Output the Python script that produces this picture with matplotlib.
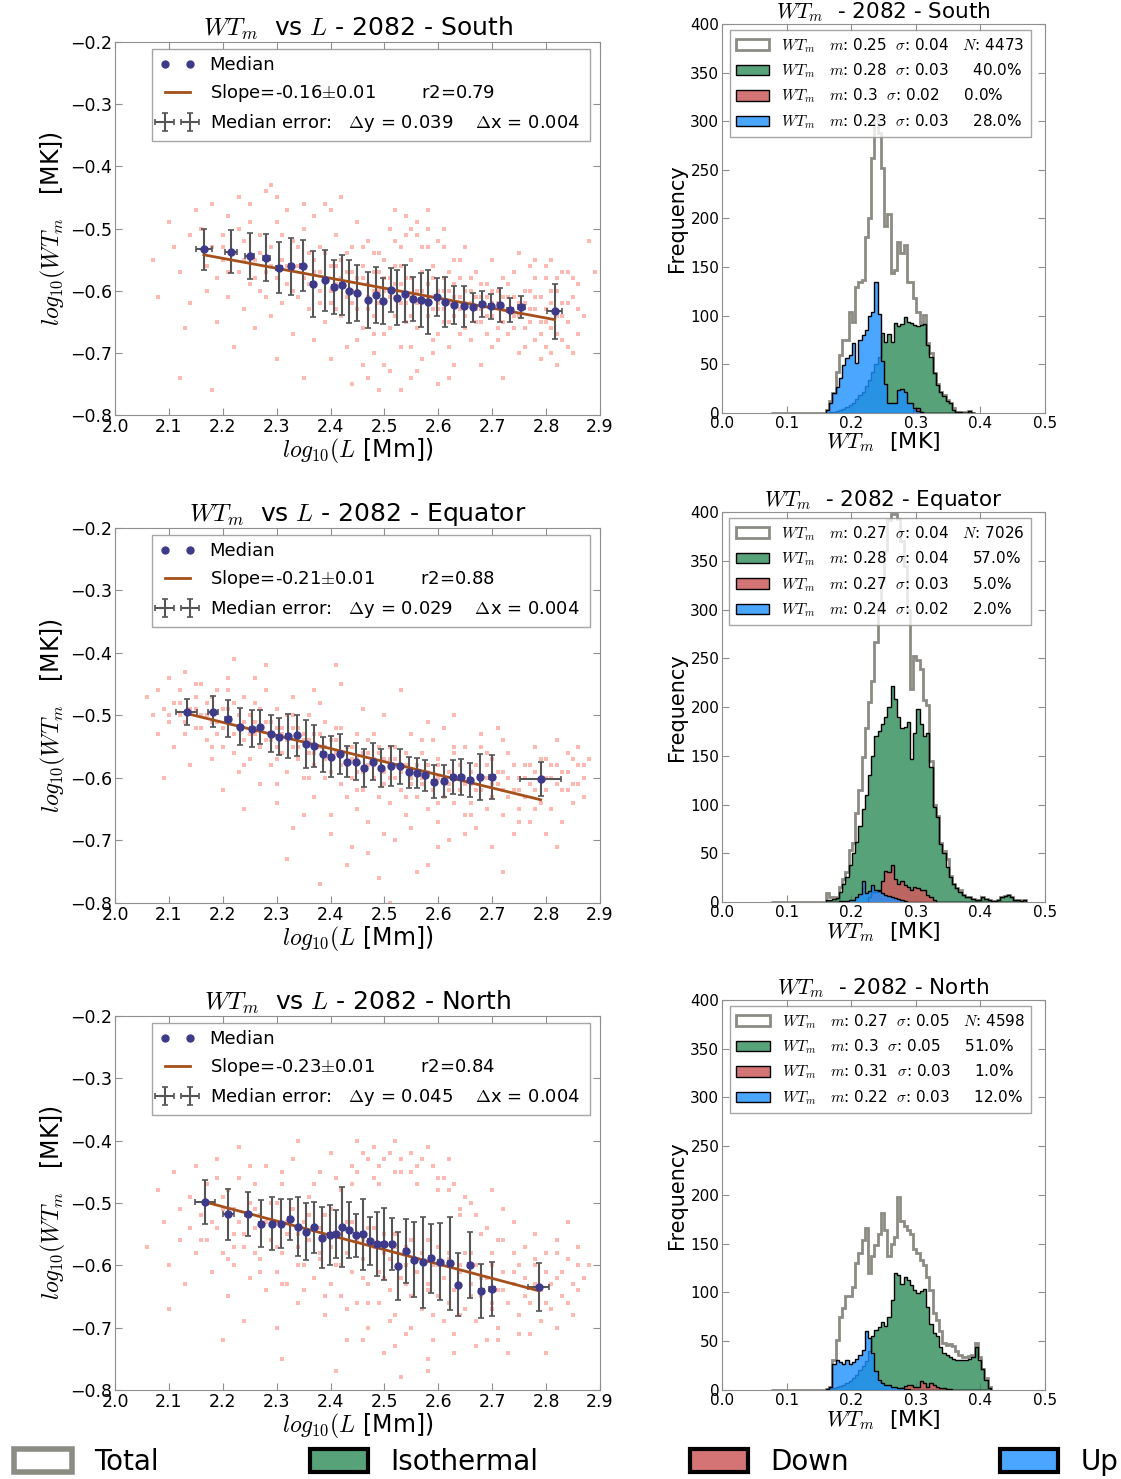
import numpy as np
import matplotlib
matplotlib.use('Agg')
import matplotlib.pyplot as plt
from matplotlib.patches import Patch
from matplotlib.colors import to_rgba

plt.rcParams['font.family'] = ['DejaVu Sans']
plt.rcParams['mathtext.fontset'] = 'cm'
plt.rcParams['xtick.direction'] = 'in'
plt.rcParams['ytick.direction'] = 'in'
plt.rcParams['xtick.top'] = True
plt.rcParams['ytick.right'] = True

regions = ['South', 'Equator', 'North']

# ---- medianas (log10 L, log10 WT_m) y errores
south_med_x = [2.165, 2.215, 2.250, 2.281, 2.304, 2.326, 2.348, 2.368, 2.390, 2.406, 2.421,
               2.435, 2.450, 2.470, 2.485, 2.497, 2.513, 2.524, 2.538, 2.553, 2.567, 2.580,
               2.597, 2.612, 2.630, 2.647, 2.664, 2.681, 2.698, 2.715, 2.733, 2.754, 2.816]
south_med_y = [-0.533, -0.537, -0.544, -0.547, -0.563, -0.561, -0.560, -0.589, -0.583, -0.594,
               -0.591, -0.601, -0.603, -0.615, -0.607, -0.616, -0.599, -0.611, -0.605, -0.613,
               -0.615, -0.618, -0.610, -0.618, -0.623, -0.625, -0.627, -0.622, -0.625, -0.623,
               -0.631, -0.626, -0.633]
south_yerr = [0.033, 0.034, 0.037, 0.038, 0.041, 0.046, 0.041, 0.053, 0.049, 0.044, 0.048,
              0.051, 0.045, 0.045, 0.045, 0.037, 0.036, 0.044, 0.046, 0.035, 0.044, 0.052,
              0.031, 0.040, 0.031, 0.033, 0.023, 0.021, 0.020, 0.028, 0.020, 0.018, 0.044]
south_xerr = [0.015, 0.011, 0.008, 0.006, 0.005, 0.004, 0.004, 0.004, 0.003, 0.003, 0.003,
              0.003, 0.003, 0.003, 0.003, 0.003, 0.003, 0.003, 0.003, 0.003, 0.003, 0.003,
              0.003, 0.003, 0.003, 0.003, 0.004, 0.004, 0.004, 0.004, 0.005, 0.007, 0.014]

equator_med_x = [2.133, 2.182, 2.210, 2.232, 2.254, 2.270, 2.289, 2.305, 2.321, 2.338, 2.354,
                 2.370, 2.386, 2.401, 2.417, 2.431, 2.448, 2.463, 2.478, 2.494, 2.512, 2.529,
                 2.545, 2.561, 2.576, 2.592, 2.610, 2.627, 2.642, 2.659, 2.678, 2.700, 2.790]
equator_med_y = [-0.494, -0.494, -0.505, -0.518, -0.521, -0.518, -0.529, -0.534, -0.533, -0.532,
                 -0.546, -0.549, -0.562, -0.566, -0.561, -0.574, -0.574, -0.584, -0.574, -0.584,
                 -0.581, -0.581, -0.591, -0.592, -0.596, -0.606, -0.605, -0.599, -0.598, -0.603,
                 -0.598, -0.599, -0.602]
equator_yerr = [0.021, 0.025, 0.029, 0.030, 0.029, 0.027, 0.030, 0.030, 0.035, 0.033, 0.038,
                0.033, 0.028, 0.033, 0.032, 0.025, 0.030, 0.030, 0.030, 0.030, 0.032, 0.028,
                0.025, 0.024, 0.025, 0.026, 0.025, 0.027, 0.029, 0.027, 0.037, 0.035, 0.027]
equator_xerr = [0.019, 0.010, 0.005, 0.004, 0.003, 0.003, 0.003, 0.003, 0.003, 0.003, 0.003,
                0.003, 0.003, 0.003, 0.003, 0.003, 0.003, 0.003, 0.003, 0.003, 0.003, 0.003,
                0.003, 0.003, 0.003, 0.003, 0.003, 0.003, 0.003, 0.004, 0.004, 0.006, 0.038]

north_med_x = [2.167, 2.210, 2.246, 2.271, 2.292, 2.308, 2.324, 2.340, 2.355, 2.370, 2.384,
               2.399, 2.410, 2.422, 2.435, 2.447, 2.460, 2.473, 2.487, 2.499, 2.514, 2.526,
               2.540, 2.555, 2.571, 2.586, 2.603, 2.621, 2.637, 2.659, 2.680, 2.700, 2.786]
north_med_y = [-0.498, -0.518, -0.518, -0.533, -0.533, -0.533, -0.526, -0.538, -0.546, -0.539,
               -0.556, -0.551, -0.550, -0.539, -0.543, -0.552, -0.550, -0.561, -0.566, -0.566,
               -0.566, -0.601, -0.577, -0.591, -0.595, -0.589, -0.594, -0.597, -0.631, -0.599,
               -0.641, -0.638, -0.635]
north_yerr = [0.035, 0.041, 0.035, 0.037, 0.043, 0.040, 0.033, 0.047, 0.046, 0.041, 0.049,
              0.048, 0.038, 0.064, 0.045, 0.035, 0.057, 0.038, 0.051, 0.058, 0.042, 0.055,
              0.051, 0.060, 0.073, 0.056, 0.062, 0.075, 0.050, 0.053, 0.043, 0.044, 0.038]
north_xerr = [0.018, 0.010, 0.004, 0.003, 0.003, 0.003, 0.003, 0.003, 0.003, 0.003, 0.003,
              0.003, 0.003, 0.003, 0.003, 0.003, 0.003, 0.003, 0.003, 0.003, 0.003, 0.003,
              0.003, 0.003, 0.003, 0.003, 0.003, 0.003, 0.003, 0.004, 0.004, 0.005, 0.019]

# ajuste lineal: y = icpt + slope * x
fit_slope = [-0.16, -0.21, -0.23]
fit_icpt = [-0.196, -0.049, 0.0]
fit_err = [0.01, 0.01, 0.01]
fit_r2 = [0.79, 0.88, 0.84]
med_dy = [0.039, 0.029, 0.045]
med_dx = [0.004, 0.004, 0.004]

# ---- nube de puntos (subconjunto)
south_cloud_x = [2.07, 2.08, 2.10, 2.11, 2.12, 2.13, 2.14, 2.14, 2.15, 2.12,
                 2.16, 2.17, 2.17, 2.18, 2.18, 2.19, 2.19, 2.20, 2.20, 2.21, 2.21, 2.22, 2.22, 2.23, 2.23, 2.24, 2.24, 2.25, 2.25, 2.18,
                 2.26, 2.26, 2.27, 2.27, 2.28, 2.28, 2.29, 2.29, 2.30, 2.30, 2.30, 2.31, 2.31, 2.32, 2.32, 2.33, 2.33, 2.34, 2.34, 2.35, 2.35, 2.35, 2.29,
                 2.36, 2.36, 2.37, 2.37, 2.37, 2.38, 2.38, 2.39, 2.39, 2.39, 2.40, 2.40, 2.40, 2.41, 2.41, 2.42, 2.42, 2.42, 2.43, 2.43, 2.43, 2.44, 2.44, 2.44, 2.45, 2.45, 2.45,
                 2.46, 2.46, 2.46, 2.47, 2.47, 2.47, 2.48, 2.48, 2.48, 2.49, 2.49, 2.49, 2.50, 2.50, 2.50, 2.51, 2.51, 2.51, 2.52, 2.52, 2.52, 2.53, 2.53, 2.53, 2.54, 2.54, 2.54, 2.55, 2.55, 2.55,
                 2.56, 2.56, 2.56, 2.57, 2.57, 2.57, 2.58, 2.58, 2.58, 2.59, 2.59, 2.59, 2.60, 2.60, 2.60, 2.61, 2.61, 2.61, 2.62, 2.62, 2.62, 2.63, 2.63, 2.63, 2.64, 2.64, 2.65, 2.65, 2.65,
                 2.66, 2.66, 2.67, 2.67, 2.68, 2.68, 2.68, 2.69, 2.69, 2.70, 2.70, 2.70, 2.71, 2.71, 2.72, 2.72, 2.72, 2.73, 2.73, 2.74, 2.74, 2.75, 2.75, 2.75,
                 2.76, 2.76, 2.77, 2.77, 2.78, 2.78, 2.78, 2.79, 2.79, 2.80, 2.80, 2.80, 2.81, 2.81, 2.81, 2.82, 2.82, 2.82, 2.83, 2.83, 2.84, 2.84, 2.85, 2.85, 2.86, 2.87, 2.88, 2.89, 2.86,
                 2.20, 2.21, 2.23, 2.24, 2.26, 2.27, 2.28, 2.29, 2.31, 2.32, 2.33, 2.34, 2.36, 2.37, 2.38, 2.38, 2.39, 2.40, 2.41, 2.41,
                 2.42, 2.43, 2.44, 2.44, 2.45, 2.46, 2.46, 2.47, 2.48, 2.48, 2.49, 2.49, 2.50, 2.50, 2.51, 2.51, 2.52, 2.52, 2.53, 2.53,
                 2.54, 2.54, 2.55, 2.55, 2.56, 2.56, 2.57, 2.57, 2.58, 2.58, 2.59, 2.59, 2.60, 2.60, 2.61, 2.61, 2.62, 2.62, 2.63, 2.63,
                 2.64, 2.64, 2.65, 2.65, 2.66, 2.66, 2.67, 2.67, 2.68, 2.68, 2.69, 2.69, 2.70, 2.70, 2.71, 2.71, 2.72, 2.72, 2.73, 2.73,
                 2.74, 2.74, 2.75, 2.76, 2.76, 2.77, 2.77, 2.78, 2.78, 2.79, 2.79, 2.80, 2.80, 2.81, 2.81, 2.82, 2.82, 2.83, 2.83, 2.84,
                 2.84, 2.85, 2.86, 2.47, 2.50, 2.53, 2.56, 2.59, 2.62, 2.45, 2.48, 2.55, 2.60, 2.52, 2.55, 2.58, 2.61, 2.64, 2.40, 2.35,
                 2.30, 2.25]
south_cloud_y = [-0.55, -0.61, -0.49, -0.53, -0.57, -0.66, -0.51, -0.62, -0.47, -0.74,
                 -0.50, -0.56, -0.60, -0.46, -0.53, -0.65, -0.58, -0.51, -0.55, -0.48, -0.61, -0.54, -0.69, -0.45, -0.57, -0.52, -0.63, -0.49, -0.59, -0.76,
                 -0.55, -0.66, -0.51, -0.60, -0.44, -0.57, -0.53, -0.64, -0.49, -0.58, -0.71, -0.55, -0.62, -0.47, -0.59, -0.52, -0.67, -0.56, -0.61, -0.50, -0.58, -0.74, -0.43,
                 -0.54, -0.63, -0.57, -0.68, -0.48, -0.60, -0.53, -0.65, -0.58, -0.46, -0.56, -0.62, -0.71, -0.51, -0.59, -0.64, -0.55, -0.45, -0.61, -0.57, -0.69, -0.53, -0.60, -0.75, -0.58, -0.63, -0.49,
                 -0.56, -0.66, -0.72, -0.52, -0.61, -0.59, -0.64, -0.57, -0.70, -0.60, -0.54, -0.76, -0.62, -0.58, -0.67, -0.50, -0.61, -0.73, -0.56, -0.64, -0.59, -0.53, -0.62, -0.69, -0.58, -0.65, -0.48, -0.61, -0.55, -0.74,
                 -0.60, -0.66, -0.51, -0.62, -0.57, -0.71, -0.59, -0.64, -0.53, -0.61, -0.68, -0.56, -0.63, -0.60, -0.75, -0.58, -0.65, -0.50, -0.62, -0.69, -0.60, -0.55, -0.64, -0.72, -0.61, -0.58, -0.66, -0.62, -0.53,
                 -0.60, -0.68, -0.63, -0.57, -0.65, -0.61, -0.72, -0.59, -0.64, -0.62, -0.55, -0.69, -0.66, -0.60, -0.63, -0.58, -0.74, -0.61, -0.67, -0.64, -0.57, -0.62, -0.70, -0.54,
                 -0.60, -0.66, -0.63, -0.56, -0.68, -0.61, -0.55, -0.65, -0.71, -0.58, -0.63, -0.69, -0.60, -0.66, -0.55, -0.72, -0.64, -0.58, -0.62, -0.68, -0.57, -0.65, -0.61, -0.70, -0.59, -0.64, -0.52, -0.57, -0.67,
                 -0.53, -0.57, -0.50, -0.55, -0.58, -0.54, -0.61, -0.56, -0.51, -0.56, -0.60, -0.53, -0.59, -0.55, -0.62, -0.57, -0.54, -0.60, -0.63, -0.56,
                 -0.58, -0.54, -0.62, -0.57, -0.60, -0.58, -0.53, -0.63, -0.60, -0.54, -0.62, -0.57, -0.60, -0.55, -0.58, -0.66, -0.61, -0.52, -0.59, -0.56,
                 -0.62, -0.51, -0.58, -0.64, -0.62, -0.49, -0.60, -0.53, -0.61, -0.50, -0.63, -0.58, -0.62, -0.52, -0.60, -0.63, -0.57, -0.65, -0.61, -0.59,
                 -0.63, -0.67, -0.60, -0.64, -0.62, -0.58, -0.65, -0.61, -0.63, -0.59, -0.61, -0.67, -0.64, -0.60, -0.62, -0.68, -0.65, -0.61, -0.63, -0.59,
                 -0.66, -0.61, -0.64, -0.62, -0.69, -0.65, -0.60, -0.63, -0.58, -0.61, -0.67, -0.65, -0.56, -0.62, -0.70, -0.60, -0.67, -0.64, -0.57, -0.62,
                 -0.69, -0.58, -0.63, -0.74, -0.72, -0.76, -0.73, -0.70, -0.74, -0.68, -0.67, -0.69, -0.67, -0.47, -0.50, -0.47, -0.53, -0.55, -0.47, -0.46,
                 -0.45, -0.46]

equator_cloud_x = [2.06, 2.07, 2.08, 2.08, 2.09, 2.10, 2.10, 2.11, 2.11, 2.12, 2.12, 2.13, 2.13, 2.14, 2.14, 2.15, 2.15, 2.09,
                   2.16, 2.16, 2.17, 2.17, 2.18, 2.18, 2.19, 2.19, 2.20, 2.20, 2.20, 2.21, 2.21, 2.22, 2.22, 2.23, 2.23, 2.24, 2.24, 2.25, 2.25, 2.22, 2.24,
                   2.26, 2.26, 2.27, 2.27, 2.28, 2.28, 2.29, 2.29, 2.30, 2.30, 2.30, 2.31, 2.31, 2.32, 2.32, 2.33, 2.33, 2.33, 2.34, 2.34, 2.35, 2.35, 2.28, 2.32,
                   2.36, 2.36, 2.37, 2.37, 2.37, 2.38, 2.38, 2.39, 2.39, 2.40, 2.40, 2.40, 2.41, 2.41, 2.42, 2.42, 2.42, 2.43, 2.43, 2.44, 2.44, 2.44, 2.45, 2.45, 2.38, 2.41,
                   2.46, 2.46, 2.47, 2.47, 2.47, 2.48, 2.48, 2.49, 2.49, 2.50, 2.50, 2.50, 2.51, 2.51, 2.52, 2.52, 2.52, 2.53, 2.53, 2.54, 2.54, 2.55, 2.55, 2.49, 2.53, 2.51,
                   2.56, 2.56, 2.57, 2.57, 2.58, 2.58, 2.59, 2.59, 2.60, 2.60, 2.60, 2.61, 2.61, 2.62, 2.62, 2.62, 2.63, 2.63, 2.64, 2.64, 2.65, 2.65, 2.58, 2.63,
                   2.66, 2.66, 2.67, 2.67, 2.68, 2.68, 2.69, 2.69, 2.70, 2.70, 2.70, 2.71, 2.71, 2.72, 2.72, 2.73, 2.73, 2.74, 2.74, 2.75, 2.75, 2.72,
                   2.76, 2.76, 2.77, 2.77, 2.78, 2.78, 2.79, 2.79, 2.80, 2.80, 2.80, 2.81, 2.81, 2.82, 2.82, 2.83, 2.83, 2.84, 2.84, 2.85, 2.85, 2.86, 2.86, 2.87, 2.87, 2.88, 2.82,
                   2.10, 2.12, 2.13, 2.15, 2.16, 2.17, 2.18, 2.19, 2.20, 2.21, 2.22, 2.23, 2.24, 2.25, 2.26, 2.27, 2.28, 2.29, 2.30, 2.31,
                   2.32, 2.33, 2.34, 2.35, 2.36, 2.37, 2.38, 2.39, 2.40, 2.41, 2.42, 2.43, 2.44, 2.45, 2.46, 2.47, 2.48, 2.49, 2.50, 2.51,
                   2.52, 2.53, 2.54, 2.55, 2.56, 2.57, 2.58, 2.59, 2.60, 2.61, 2.62, 2.63, 2.64, 2.65, 2.66, 2.67, 2.68, 2.69, 2.70, 2.71,
                   2.72, 2.73, 2.74, 2.75, 2.76, 2.77, 2.78, 2.79, 2.80, 2.81, 2.82, 2.83, 2.84, 2.85, 2.86, 2.87, 2.15, 2.18, 2.21, 2.24,
                   2.27, 2.30, 2.33, 2.36, 2.39, 2.42, 2.45, 2.48, 2.51, 2.54, 2.57, 2.60, 2.63, 2.66, 2.69, 2.72, 2.75, 2.78, 2.35, 2.40,
                   2.45, 2.50, 2.55, 2.60, 2.65, 2.43, 2.47, 2.56, 2.30, 2.26, 2.37, 2.46, 2.58, 2.68]
equator_cloud_y = [-0.47, -0.50, -0.46, -0.53, -0.49, -0.44, -0.51, -0.48, -0.55, -0.46, -0.50, -0.53, -0.43, -0.49, -0.58, -0.47, -0.52, -0.60,
                   -0.50, -0.45, -0.54, -0.48, -0.51, -0.57, -0.46, -0.53, -0.49, -0.55, -0.62, -0.44, -0.51, -0.48, -0.56, -0.52, -0.59, -0.47, -0.54, -0.50, -0.57, -0.41, -0.65,
                   -0.53, -0.48, -0.55, -0.61, -0.51, -0.46, -0.54, -0.58, -0.52, -0.49, -0.64, -0.56, -0.53, -0.50, -0.59, -0.55, -0.47, -0.68, -0.57, -0.52, -0.54, -0.60, -0.42, -0.73,
                   -0.56, -0.50, -0.58, -0.53, -0.63, -0.55, -0.48, -0.60, -0.57, -0.54, -0.59, -0.66, -0.52, -0.56, -0.61, -0.58, -0.45, -0.55, -0.63, -0.57, -0.60, -0.71, -0.53, -0.59, -0.77, -0.42,
                   -0.56, -0.62, -0.58, -0.54, -0.67, -0.60, -0.57, -0.63, -0.55, -0.59, -0.61, -0.50, -0.57, -0.64, -0.60, -0.55, -0.70, -0.58, -0.62, -0.56, -0.66, -0.60, -0.53, -0.76, -0.46, -0.80,
                   -0.59, -0.63, -0.61, -0.56, -0.65, -0.58, -0.62, -0.54, -0.60, -0.67, -0.57, -0.63, -0.52, -0.61, -0.59, -0.70, -0.64, -0.56, -0.62, -0.60, -0.66, -0.55, -0.74, -0.50,
                   -0.61, -0.64, -0.58, -0.68, -0.62, -0.55, -0.65, -0.60, -0.63, -0.57, -0.71, -0.61, -0.52, -0.66, -0.59, -0.63, -0.56, -0.62, -0.69, -0.60, -0.65, -0.75,
                   -0.58, -0.63, -0.61, -0.67, -0.59, -0.55, -0.64, -0.60, -0.62, -0.57, -0.69, -0.60, -0.65, -0.58, -0.54, -0.62, -0.67, -0.59, -0.56, -0.61, -0.64, -0.58, -0.55, -0.60, -0.63, -0.57, -0.71,
                   -0.50, -0.48, -0.51, -0.49, -0.52, -0.50, -0.47, -0.51, -0.52, -0.49, -0.53, -0.50, -0.51, -0.53, -0.51, -0.52, -0.54, -0.51, -0.55, -0.52,
                   -0.54, -0.52, -0.55, -0.53, -0.54, -0.56, -0.53, -0.55, -0.57, -0.54, -0.56, -0.58, -0.55, -0.57, -0.59, -0.56, -0.58, -0.56, -0.57, -0.60,
                   -0.57, -0.59, -0.58, -0.61, -0.58, -0.60, -0.59, -0.61, -0.58, -0.60, -0.62, -0.60, -0.58, -0.61, -0.59, -0.62, -0.60, -0.58, -0.61, -0.59,
                   -0.62, -0.60, -0.58, -0.62, -0.60, -0.58, -0.62, -0.57, -0.60, -0.58, -0.61, -0.59, -0.62, -0.57, -0.61, -0.58, -0.45, -0.55, -0.46, -0.58,
                   -0.49, -0.57, -0.50, -0.60, -0.51, -0.52, -0.62, -0.53, -0.55, -0.63, -0.54, -0.64, -0.55, -0.66, -0.56, -0.54, -0.67, -0.65, -0.66, -0.69,
                   -0.65, -0.69, -0.68, -0.71, -0.69, -0.74, -0.72, -0.75, -0.61, -0.44, -0.46, -0.49, -0.51, -0.53]

north_cloud_x = [2.06, 2.08, 2.09, 2.10, 2.11, 2.12, 2.12, 2.13, 2.14, 2.14, 2.15, 2.15, 2.10,
                 2.16, 2.17, 2.17, 2.18, 2.18, 2.19, 2.19, 2.20, 2.20, 2.21, 2.21, 2.22, 2.22, 2.23, 2.23, 2.24, 2.24, 2.25, 2.25, 2.20, 2.23,
                 2.26, 2.26, 2.27, 2.27, 2.28, 2.28, 2.29, 2.29, 2.30, 2.30, 2.30, 2.31, 2.31, 2.32, 2.32, 2.33, 2.33, 2.34, 2.34, 2.35, 2.35, 2.31, 2.34,
                 2.36, 2.36, 2.37, 2.37, 2.38, 2.38, 2.39, 2.39, 2.40, 2.40, 2.40, 2.41, 2.41, 2.42, 2.42, 2.43, 2.43, 2.43, 2.44, 2.44, 2.45, 2.45, 2.45, 2.41,
                 2.46, 2.46, 2.47, 2.47, 2.47, 2.48, 2.48, 2.49, 2.49, 2.50, 2.50, 2.50, 2.51, 2.51, 2.52, 2.52, 2.52, 2.53, 2.53, 2.54, 2.54, 2.55, 2.55, 2.55, 2.49, 2.53,
                 2.56, 2.56, 2.57, 2.57, 2.58, 2.58, 2.59, 2.59, 2.60, 2.60, 2.60, 2.61, 2.61, 2.62, 2.62, 2.63, 2.63, 2.64, 2.64, 2.65, 2.65, 2.62, 2.58,
                 2.66, 2.66, 2.67, 2.67, 2.68, 2.68, 2.69, 2.69, 2.70, 2.70, 2.70, 2.71, 2.71, 2.72, 2.72, 2.73, 2.73, 2.74, 2.74, 2.75, 2.75, 2.72,
                 2.76, 2.76, 2.77, 2.77, 2.78, 2.78, 2.79, 2.79, 2.80, 2.80, 2.81, 2.81, 2.82, 2.82, 2.83, 2.83, 2.84, 2.85, 2.85, 2.86, 2.87, 2.88, 2.80, 2.84,
                 2.18, 2.20, 2.22, 2.24, 2.26, 2.28, 2.30, 2.32, 2.34, 2.36, 2.38, 2.40, 2.42, 2.44, 2.46, 2.48, 2.50, 2.52, 2.54, 2.56,
                 2.58, 2.60, 2.62, 2.64, 2.66, 2.68, 2.70, 2.72, 2.74, 2.76, 2.78, 2.80, 2.82, 2.84, 2.86, 2.45, 2.47, 2.49, 2.51, 2.53,
                 2.55, 2.57, 2.59, 2.61, 2.63, 2.65, 2.67, 2.69, 2.71, 2.44, 2.48, 2.52, 2.56, 2.60, 2.64, 2.27, 2.31, 2.35, 2.39, 2.43,
                 2.47, 2.51, 2.55, 2.59, 2.63, 2.67, 2.71, 2.75, 2.46, 2.52, 2.58, 2.64, 2.70, 2.42, 2.46, 2.50, 2.54, 2.58, 2.62, 2.66,
                 2.74, 2.78, 2.82, 2.86, 2.38, 2.34, 2.30, 2.26, 2.22, 2.19, 2.25, 2.31, 2.37, 2.41, 2.21, 2.16]
north_cloud_y = [-0.57, -0.48, -0.53, -0.60, -0.45, -0.51, -0.56, -0.63, -0.49, -0.54, -0.58, -0.44, -0.67,
                 -0.52, -0.47, -0.56, -0.61, -0.50, -0.54, -0.43, -0.58, -0.51, -0.65, -0.48, -0.55, -0.60, -0.46, -0.53, -0.57, -0.69, -0.50, -0.62, -0.72, -0.41,
                 -0.54, -0.47, -0.59, -0.52, -0.64, -0.44, -0.56, -0.50, -0.61, -0.53, -0.70, -0.47, -0.58, -0.55, -0.63, -0.51, -0.43, -0.57, -0.66, -0.53, -0.60, -0.75, -0.40,
                 -0.56, -0.49, -0.62, -0.54, -0.45, -0.59, -0.68, -0.52, -0.57, -0.63, -0.42, -0.55, -0.60, -0.48, -0.65, -0.58, -0.53, -0.72, -0.61, -0.44, -0.56, -0.66, -0.40, -0.77,
                 -0.59, -0.42, -0.54, -0.63, -0.70, -0.57, -0.41, -0.61, -0.66, -0.55, -0.43, -0.74, -0.59, -0.64, -0.40, -0.57, -0.68, -0.62, -0.45, -0.60, -0.71, -0.56, -0.42, -0.65, -0.47, -0.78,
                 -0.61, -0.44, -0.58, -0.67, -0.63, -0.41, -0.60, -0.72, -0.57, -0.46, -0.65, -0.62, -0.69, -0.59, -0.48, -0.64, -0.74, -0.61, -0.52, -0.67, -0.58, -0.43, -0.77,
                 -0.63, -0.50, -0.69, -0.60, -0.65, -0.55, -0.72, -0.62, -0.58, -0.67, -0.48, -0.64, -0.70, -0.61, -0.56, -0.66, -0.74, -0.63, -0.53, -0.68, -0.60, -0.51,
                 -0.62, -0.57, -0.66, -0.71, -0.60, -0.55, -0.64, -0.69, -0.61, -0.58, -0.67, -0.63, -0.56, -0.70, -0.61, -0.65, -0.59, -0.63, -0.68, -0.57, -0.62, -0.60, -0.74, -0.53,
                 -0.53, -0.49, -0.51, -0.55, -0.51, -0.53, -0.50, -0.53, -0.55, -0.52, -0.54, -0.51, -0.55, -0.53, -0.56, -0.54, -0.58, -0.55, -0.57, -0.59,
                 -0.56, -0.60, -0.58, -0.60, -0.58, -0.62, -0.60, -0.64, -0.61, -0.65, -0.63, -0.66, -0.62, -0.66, -0.64, -0.45, -0.43, -0.44, -0.42, -0.43,
                 -0.45, -0.43, -0.44, -0.46, -0.47, -0.49, -0.52, -0.54, -0.56, -0.47, -0.46, -0.45, -0.47, -0.48, -0.51, -0.61, -0.63, -0.64, -0.65, -0.67,
                 -0.66, -0.69, -0.70, -0.68, -0.71, -0.73, -0.72, -0.71, -0.72, -0.73, -0.75, -0.68, -0.66, -0.60, -0.62, -0.62, -0.63, -0.64, -0.66, -0.65,
                 -0.58, -0.59, -0.58, -0.60, -0.58, -0.60, -0.57, -0.58, -0.57, -0.46, -0.44, -0.45, -0.47, -0.46, -0.59, -0.56]

# ---- histogramas WT_m [MK], bins de 0.005 desde 0.161
h_start = 0.161
h_width = 0.005
h_pad = 17  # bins vacios antes de h_start (linea base del total)

south_total = [3, 12, 20, 42, 60, 75, 75, 104, 94, 129, 135, 137, 181, 200, 262, 305, 288, 252, 192, 205,
               144, 147, 176, 164, 173, 135, 135, 118, 104, 92, 101, 72, 62, 41, 30, 22, 18, 13, 10, 5,
               1, 1, 1, 1, 2, 0]
south_iso = [0, 1, 1, 2, 3, 4, 6, 8, 10, 14, 18, 22, 28, 34, 42, 50, 58, 82, 73, 81,
             73, 92, 89, 91, 99, 93, 92, 90, 89, 90, 91, 70, 58, 41, 29, 22, 17, 12, 10, 3,
             1, 1, 0, 0, 2, 0]
south_down = [0] * 27 + [3, 5, 1] + [0] * 16
south_up = [3, 10, 20, 27, 36, 49, 56, 60, 72, 51, 75, 80, 85, 100, 104, 135, 102, 53, 30, 10,
            10, 10, 24, 25, 22, 10, 10, 5, 2, 1] + [0] * 16

equator_total = [9, 5, 5, 3, 15, 24, 31, 53, 61, 91, 115, 149, 178, 205, 227, 267, 300, 330, 360, 392,
                 398, 398, 393, 370, 345, 300, 219, 252, 248, 239, 207, 202, 145, 100, 88, 61, 52, 44, 27, 19,
                 14, 12, 7, 5, 5, 3, 2, 2, 5, 3, 2, 1, 1, 2, 5, 6, 7, 5, 2, 2, 1, 2]
equator_iso = [2, 2, 3, 4, 10, 19, 26, 38, 50, 62, 78, 95, 110, 130, 150, 170, 175, 183, 190, 200,
               222, 208, 190, 178, 180, 185, 147, 173, 198, 183, 170, 173, 138, 97, 87, 60, 50, 36, 26, 19,
               14, 10, 7, 5, 5, 3, 2, 2, 5, 3, 2, 1, 1, 2, 5, 6, 7, 5, 2, 2, 1, 2]
equator_down = [0] * 13 + [5, 10, 10, 12, 22, 32, 31, 38, 24, 19, 22, 17, 15, 12, 15, 14, 12, 12, 7, 5, 2] + [0] * 28
equator_up = [0] * 4 + [1, 1, 1, 2, 2, 5, 8, 22, 9, 11, 17, 12, 11, 9, 7, 6, 5, 4, 3, 2, 1] + [0] * 37

north_total = [1, 3, 31, 51, 75, 84, 96, 96, 106, 130, 140, 154, 166, 120, 137, 149, 160, 182, 164, 137,
               150, 157, 198, 173, 168, 164, 160, 145, 140, 133, 128, 116, 103, 79, 72, 60, 48, 46, 47, 45,
               40, 36, 34, 34, 35, 36, 48, 34, 22, 12, 3]
north_iso = [1, 2, 2, 3, 4, 5, 7, 9, 12, 15, 20, 25, 30, 40, 55, 62, 65, 70, 66, 75,
             92, 120, 118, 109, 116, 113, 108, 103, 99, 101, 104, 85, 68, 58, 55, 44, 38, 36, 34, 32,
             31, 31, 31, 31, 32, 34, 44, 31, 21, 10, 2]
north_down = [0] * 23 + [2, 4, 5, 5, 3, 3, 9, 7, 3, 7, 5, 3, 2, 2, 1, 1] + [0] * 12
north_up = [0] + [3, 27, 31, 29, 27, 31, 27, 29, 32, 36, 41, 60, 53, 38, 19, 10, 7, 5, 5, 3,
                  3, 2, 2, 1, 1] + [0] * 25

# estadisticas de la leyenda: total, iso, down, up
hist_m = [[0.25, 0.28, 0.3, 0.23], [0.27, 0.28, 0.27, 0.24], [0.27, 0.3, 0.31, 0.22]]
hist_s = [[0.04, 0.03, 0.02, 0.03], [0.04, 0.04, 0.03, 0.02], [0.05, 0.05, 0.03, 0.03]]
hist_pct = [[40.0, 0.0, 28.0], [57.0, 5.0, 2.0], [51.0, 1.0, 12.0]]
hist_n = [4473, 7026, 4598]

med_x = [south_med_x, equator_med_x, north_med_x]
med_y = [south_med_y, equator_med_y, north_med_y]
med_xe = [south_xerr, equator_xerr, north_xerr]
med_ye = [south_yerr, equator_yerr, north_yerr]
cloud_x = [south_cloud_x, equator_cloud_x, north_cloud_x]
cloud_y = [south_cloud_y, equator_cloud_y, north_cloud_y]
h_total = [south_total, equator_total, north_total]
h_iso = [south_iso, equator_iso, north_iso]
h_down = [south_down, equator_down, north_down]
h_up = [south_up, equator_up, north_up]

c_total = '#8c8c84'
c_iso = to_rgba('seagreen', 0.8)
c_down = to_rgba('indianred', 0.85)
c_up = to_rgba('dodgerblue', 0.8)
c_spine = '#8f8f8f'

fig = plt.figure(figsize=(11.21, 14.79), dpi=100)

left_pos = [[0.1026, 0.7194, 0.4326, 0.2522], [0.1026, 0.3895, 0.4326, 0.2535], [0.1026, 0.0602, 0.4326, 0.2529]]
right_pos = [[0.6441, 0.7208, 0.2881, 0.2630], [0.6441, 0.3901, 0.2881, 0.2637], [0.6441, 0.0602, 0.2881, 0.2637]]


def style(ax, size):
    for sp in ax.spines.values():
        sp.set_color(c_spine)
    ax.tick_params(which='both', colors=c_spine, labelcolor='black', labelsize=size, length=5, pad=2)


for i, reg in enumerate(regions):
    # ---------- scatter
    ax = fig.add_axes(left_pos[i])
    ax.scatter(cloud_x[i], cloud_y[i], s=12, marker='s', color='#ff7466', alpha=0.5, lw=0, zorder=1)
    err = ax.errorbar(med_x[i], med_y[i], yerr=med_ye[i], xerr=med_xe[i], fmt='none', ecolor='#555555',
                      elinewidth=1.5, capsize=2.5, capthick=1.2, zorder=2)
    for cap in err[1]:
        cap.set_color('black')
    xx = np.array([min(med_x[i]), max(med_x[i])])
    fit, = ax.plot(xx, fit_icpt[i] + fit_slope[i] * xx, color='#a5501c', lw=2, zorder=3)
    med, = ax.plot(med_x[i], med_y[i], 'o', color='#3e3a8a', mec='#3e3a8a', ms=5, zorder=4)
    ax.set_xlim(2.0, 2.9)
    ax.set_ylim(-0.8, -0.2)
    ax.set_xticks(np.arange(2.0, 2.91, 0.1))
    ax.set_yticks(np.arange(-0.8, -0.19, 0.1))
    style(ax, 12.5)
    ax.set_xlabel('$log_{10}(L$ [Mm])', fontsize=17, labelpad=0)
    ax.set_ylabel('$log_{10}(WT_m$   [MK])', fontsize=17, labelpad=2)
    ax.set_title('$WT_m$  vs $L$ - 2082 - ' + reg, fontsize=18, pad=2)
    leg_labels = ['Median',
                  'Slope=%s$\\pm$%s        r2=%s' % (fit_slope[i], fit_err[i], fit_r2[i]),
                  'Median error:   $\\Delta$y = %s    $\\Delta$x = %s' % (med_dy[i], med_dx[i])]
    leg = ax.legend([med, fit, err], leg_labels, loc='upper left', mode='expand',
                    bbox_to_anchor=(0.076, 0.982, 0.903, 0.0), numpoints=2, fontsize=13,
                    fancybox=False, borderaxespad=0, handlelength=2.0, labelspacing=0.45)
    leg.get_frame().set_edgecolor(c_spine)

    # ---------- histograma
    ax = fig.add_axes(right_pos[i])
    n = len(h_total[i])
    edges = h_start + h_width * np.arange(n + 1)
    tot = np.concatenate([np.zeros(h_pad), h_total[i]])
    tot_edges = h_start - h_pad * h_width + h_width * np.arange(len(tot) + 1)
    ax.stairs(tot, tot_edges, fill=False, color=c_total, lw=2, baseline=0, zorder=1)
    ax.stairs(h_iso[i], edges, fill=True, facecolor=c_iso, edgecolor='black', lw=1, zorder=2)
    ax.stairs(h_down[i], edges, fill=True, facecolor=c_down, edgecolor='black', lw=1, zorder=3)
    ax.stairs(h_up[i], edges, fill=True, facecolor=c_up, edgecolor='black', lw=1, zorder=4)
    ax.set_xlim(0, 0.5)
    ax.set_ylim(0, 400)
    ax.set_xticks(np.arange(0, 0.51, 0.1))
    ax.set_yticks(np.arange(0, 401, 50))
    style(ax, 11)
    ax.set_xlabel('$WT_m$  [MK]', fontsize=16, labelpad=0)
    ax.set_ylabel('Frequency', fontsize=15, labelpad=2)
    ax.set_title('$WT_m$  - 2082 - ' + reg, fontsize=15.5, pad=0)
    m, s, p = hist_m[i], hist_s[i], hist_pct[i]
    labels = ['$WT_m$   $m$: %s  $\\sigma$: %s   $N$: %d' % (m[0], s[0], hist_n[i]),
              '$WT_m$   $m$: %s  $\\sigma$: %s     %s%%' % (m[1], s[1], p[0]),
              '$WT_m$   $m$: %s  $\\sigma$: %s     %s%%' % (m[2], s[2], p[1]),
              '$WT_m$   $m$: %s  $\\sigma$: %s     %s%%' % (m[3], s[3], p[2])]
    handles = [Patch(facecolor='white', edgecolor=c_total, lw=2),
               Patch(facecolor=c_iso, edgecolor='black'),
               Patch(facecolor=c_down, edgecolor='black'),
               Patch(facecolor=c_up, edgecolor='black')]
    leg = ax.legend(handles, labels, loc='upper center', bbox_to_anchor=(0.49, 0.985), fontsize=11,
                    fancybox=False, borderaxespad=0, handlelength=2.2, labelspacing=0.45)
    leg.get_frame().set_edgecolor(c_spine)

# leyenda general abajo
fig_handles = [Patch(facecolor='white', edgecolor=c_total, lw=4),
               Patch(facecolor=c_iso, edgecolor='black', lw=3),
               Patch(facecolor=c_down, edgecolor='black', lw=3),
               Patch(facecolor=c_up, edgecolor='black', lw=3)]
fig.legend(fig_handles, ['Total', 'Isothermal', 'Down', 'Up'], loc='lower left', ncol=4, mode='expand',
           bbox_to_anchor=(-0.01, -0.015, 1.03, 0.03), fontsize=20, frameon=False,
           handlelength=2.1, handleheight=0.85, handletextpad=0.8)

fig.savefig('out.png', dpi=100)
